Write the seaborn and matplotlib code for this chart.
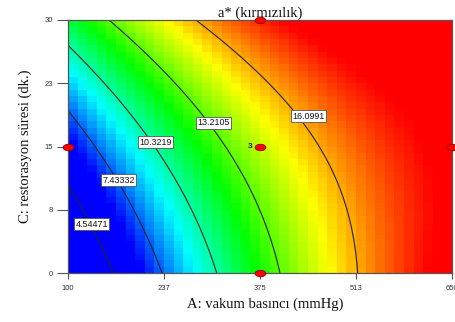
import numpy as np
import pandas as pd
import matplotlib
matplotlib.use("Agg")
import matplotlib.pyplot as plt
from matplotlib.colors import LinearSegmentedColormap
from matplotlib.path import Path
from matplotlib.transforms import Affine2D
import seaborn as sns

# Factor ranges
a_range = [100, 650]   # A: vakum basıncı (mmHg)
c_range = [0, 30]      # C: restorasyon süresi (dk.)

# Quadratic response model for a* in coded units:
# intercept, A, C, AC, A^2, C^2
coef = [14.40, 6.20, 2.65, -2.30, -2.22, 0.60]

# Colour scale limits of the surface
color_low, color_high = 6.3, 18.1

# Contour levels and where their labels sit (A, C)
levels = [4.54471, 7.43332, 10.3219, 13.2105, 16.0991]
label_A = [134, 172, 225, 308, 445]
label_C = [5.8, 11.0, 15.5, 17.8, 18.6]

# Design points and replicate count
design_A = [375, 375, 100, 650, 375]
design_C = [30, 15, 15, 15, 0]
center_reps = "3"

# Axis ticks
x_ticks = [100, 237.5, 375, 512.5, 650]
x_tick_labels = ["100", "237", "375", "513", "650"]
y_ticks = [0, 7.5, 15, 22.5, 30]
y_tick_labels = ["0", "8", "15", "23", "30"]


def response(A, C):
    a = (A - 375.0) / 275.0
    c = (C - 15.0) / 15.0
    b0, b1, b2, b12, b11, b22 = coef
    return b0 + b1 * a + b2 * c + b12 * a * c + b11 * a ** 2 + b22 * c ** 2


sns.set_theme(style="white")
plt.rcParams["font.family"] = ["Liberation Serif", "DejaVu Serif"]

fig = plt.figure(figsize=(4.56, 3.22), dpi=100)
ax = fig.add_axes([68 / 456, 49 / 322, 384 / 456, 253 / 322])

# Blocky colour surface on a 40 x 40 grid
n = 40
a_edges = np.linspace(*a_range, n + 1)
c_edges = np.linspace(*c_range, n + 1)
a_mid = (a_edges[:-1] + a_edges[1:]) / 2
c_mid = (c_edges[:-1] + c_edges[1:]) / 2
AM, CM = np.meshgrid(a_mid, c_mid)
cmap = LinearSegmentedColormap.from_list(
    "rainbow_de", ["#0000ff", "#00ffff", "#00ff00", "#ffff00", "#ff0000"])
ax.pcolormesh(a_edges, c_edges, response(AM, CM), cmap=cmap,
              vmin=color_low, vmax=color_high, shading="flat", zorder=1)

# Smooth contour lines
af = np.linspace(*a_range, 300)
cf = np.linspace(*c_range, 300)
AF, CF = np.meshgrid(af, cf)
ax.contour(AF, CF, response(AF, CF), levels=levels,
           colors="#222222", linewidths=0.8, zorder=2)

for lv, xa, yc in zip(levels, label_A, label_C):
    ax.text(xa, yc, f"{lv:.6g}", fontsize=6.4, family="Liberation Sans",
            ha="center", va="center", color="#111111", zorder=4,
            bbox=dict(boxstyle="square,pad=0.15", fc="white",
                      ec="#555555", lw=0.6))

# Design points drawn as flat ellipses
ellipse = Path.unit_circle().transformed(Affine2D().scale(1.0, 0.6))
pts = pd.DataFrame({"A": design_A, "C": design_C})
sns.scatterplot(data=pts, x="A", y="C", ax=ax, marker=ellipse, s=60,
                color="#ff0000", edgecolor="#8b0000", linewidth=0.6,
                clip_on=False, zorder=5, legend=False)
ax.annotate(center_reps, (design_A[1], design_C[1]), xytext=(-7, 0),
            textcoords="offset points", fontsize=6, family="Liberation Sans",
            fontweight="bold", ha="center", va="center", color="#222222",
            zorder=6)

ax.set_xlim(*a_range)
ax.set_ylim(*c_range)
ax.set_xticks(x_ticks)
ax.set_xticklabels(x_tick_labels)
ax.set_yticks(y_ticks)
ax.set_yticklabels(y_tick_labels)
ax.tick_params(axis="x", length=4, width=0.8, color="#555555", pad=5,
               labelsize=5.5, labelcolor="#333333", bottom=True)
ax.tick_params(axis="y", length=8, width=0.8, color="#555555", pad=3,
               labelsize=5.5, labelcolor="#333333", left=True)
for lab in ax.get_xticklabels() + ax.get_yticklabels():
    lab.set_family("Liberation Sans")
for side in ax.spines.values():
    side.set_color("#555555")
    side.set_linewidth(0.9)

ax.set_title("a* (kırmızılık)", fontsize=10.5, pad=2, color="#111111")
ax.set_xlabel("A: vakum basıncı (mmHg)", fontsize=10.5, labelpad=6,
              color="#111111")
ax.xaxis.set_label_coords(0.513, -0.095)
ax.set_ylabel("C: restorasyon süresi (dk.)", fontsize=10.5, labelpad=9,
              color="#111111")

fig.savefig("out.png", dpi=100)
